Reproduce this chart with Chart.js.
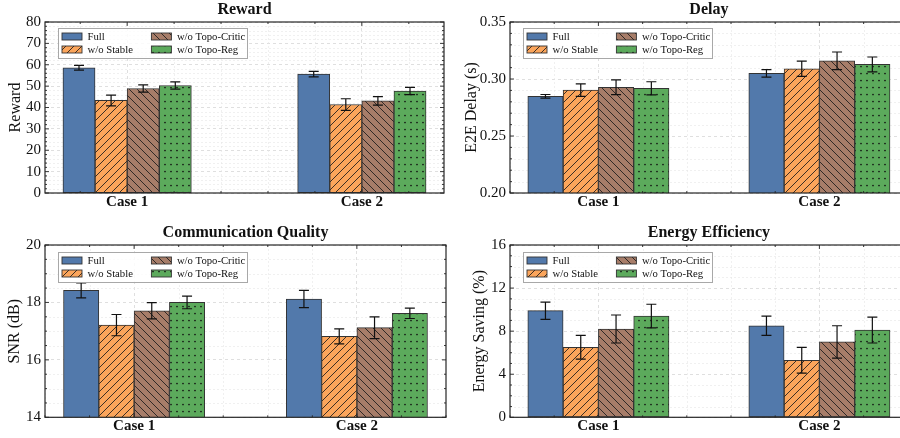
<!DOCTYPE html>
<html><head><meta charset="utf-8">
<script src="https://cdn.jsdelivr.net/npm/chart.js@4.4.1/dist/chart.umd.min.js"></script>
<style>
html,body{margin:0;padding:0;width:900px;height:438px;overflow:hidden;background:#fff}
canvas{position:absolute;display:block}
</style></head><body>
<canvas id="c1" width="450" height="219" style="left:0;top:0"></canvas>
<canvas id="c2" width="460" height="219" style="left:450px;top:0"></canvas>
<canvas id="c3" width="450" height="219" style="left:0;top:219px"></canvas>
<canvas id="c4" width="460" height="219" style="left:450px;top:219px"></canvas>
<script>
// ---------- data ----------
const categories = ['Case 1', 'Case 2'];
const categoryPositions = [0, 1];
const seriesNames = ['Full', 'w/o Stable', 'w/o Topo-Critic', 'w/o Topo-Reg'];

// values per series (Full, w/o Stable, w/o Topo-Critic, w/o Topo-Reg) for [Case 1, Case 2]
const rewardMeans = [[58.6, 55.6], [43.3, 41.4], [48.9, 43.1], [50.3, 47.7]];
const rewardErrs  = [[1.1, 1.3], [2.5, 2.7], [1.7, 2.0], [1.7, 1.7]];
const delayMeans  = [[0.2848, 0.3050], [0.2902, 0.3090], [0.2928, 0.3160], [0.2918, 0.3128]];
const delayErrs   = [[0.0016, 0.0033], [0.0055, 0.0067], [0.0065, 0.0077], [0.0058, 0.0065]];
const snrMeans    = [[18.42, 18.12], [17.21, 16.82], [17.71, 17.12], [18.00, 17.62]];
const snrErrs     = [[0.26, 0.30], [0.37, 0.26], [0.28, 0.38], [0.22, 0.18]];
const energyMeans = [[9.9, 8.5], [6.5, 5.3], [8.2, 7.0], [9.4, 8.1]];
const energyErrs  = [[0.8, 0.9], [1.1, 1.2], [1.3, 1.5], [1.1, 1.2]];

// tick labels
const rewardTicks = [0, 10, 20, 30, 40, 50, 60, 70, 80];
const delayTicks  = [0.20, 0.25, 0.30, 0.35];
const snrTicks    = [14, 16, 18, 20];
const energyTicks = [0, 4, 8, 12, 16];

// ---------- style ----------
const FONT = "'Liberation Serif','Times New Roman',serif";
const TXT = '#111111';
const EDGE = '#333333';
const baseColors = ['#5279AB', '#FBA55B', '#A77D69', '#5CAA5C'];
const hatchKinds = ['none', 'fwd', 'back', 'dots'];

function makeFill(ctx, base, kind) {
  if (kind === 'none') return base;
  const c = document.createElement('canvas');
  const g = c.getContext('2d');
  if (kind === 'dots') {
    c.width = 6; c.height = 7;
    g.fillStyle = base; g.fillRect(0, 0, 6, 7);
    g.fillStyle = '#111';
    g.beginPath(); g.arc(3, 3.5, 0.85, 0, Math.PI * 2); g.fill();
  } else {
    const s = 8;
    c.width = s; c.height = s;
    g.fillStyle = base; g.fillRect(0, 0, s, s);
    g.strokeStyle = '#1a1a1a'; g.lineWidth = 0.85;
    g.beginPath();
    if (kind === 'fwd') {
      g.moveTo(-1, s + 1); g.lineTo(s + 1, -1);
      g.moveTo(-1, 1); g.lineTo(1, -1);
      g.moveTo(s - 1, s + 1); g.lineTo(s + 1, s - 1);
    } else {
      g.moveTo(-1, -1); g.lineTo(s + 1, s + 1);
      g.moveTo(s - 1, -1); g.lineTo(s + 1, 1);
      g.moveTo(-1, s - 1); g.lineTo(1, s + 1);
    }
    g.stroke();
  }
  return ctx.createPattern(c, 'repeat');
}

const panels = [
  {id: 'c1', title: 'Reward', yTitle: 'Reward', means: rewardMeans, errs: rewardErrs, ticks: rewardTicks,
   yMin: 0, yMax: 80, minor: 2, dec: 0, xMin: -0.35, xMax: 1.35, bar: 32.1,
   yW: 45, yTitlePad: 6, xH: 26, tTop: 0, tBot: 2.8, padR: 6, legTop: 6},
  {id: 'c2', title: 'Delay', yTitle: 'E2E Delay (s)', means: delayMeans, errs: delayErrs, ticks: delayTicks,
   yMin: 0.20, yMax: 0.35, minor: 0.01, dec: 2, xMin: -0.4, xMax: 1.4, bar: 35.3,
   yW: 60, yTitlePad: 12.2, xH: 26, tTop: 0, tBot: 2.8, padR: 2.2, legTop: 6},
  {id: 'c3', title: 'Communication Quality', yTitle: 'SNR (dB)', means: snrMeans, errs: snrErrs, ticks: snrTicks,
   yMin: 14, yMax: 20, minor: 0.5, dec: 0, xMin: -0.4, xMax: 1.4, bar: 35.3,
   yW: 45, yTitlePad: 5.5, xH: 20.7, tTop: 4.4, tBot: 2.4, padR: 4, legTop: 7},
  {id: 'c4', title: 'Energy Efficiency', yTitle: 'Energy Saving (%)', means: energyMeans, errs: energyErrs, ticks: energyTicks,
   yMin: 0, yMax: 16, minor: 1, dec: 0, xMin: -0.4, xMax: 1.4, bar: 35.3,
   yW: 60, yTitlePad: 20.5, xH: 20.7, tTop: 4.4, tBot: 2.4, padR: 2.2, legTop: 7}
];

function decoPlugin(p, fills) {
  return {
    id: 'deco',
    beforeDatasetsDraw(chart) {
      const {ctx, chartArea: a, scales: {x, y}} = chart;
      ctx.save();
      ctx.strokeStyle = '#e6e6e6'; ctx.lineWidth = 0.6; ctx.setLineDash([2, 2]);
      ctx.beginPath();
      const n = Math.round((p.yMax - p.yMin) / p.minor);
      for (let i = 1; i < n; i++) {
        const v = p.yMin + i * p.minor;
        if (p.ticks.some(t => Math.abs(t - v) < 1e-9)) continue;
        const py = Math.round(y.getPixelForValue(v)) + 0.5;
        ctx.moveTo(a.left, py); ctx.lineTo(a.right, py);
      }
      for (let k = Math.ceil(p.xMin / 0.2); k * 0.2 < p.xMax - 1e-9; k++) {
        if (k % 5 === 0) continue;
        const px = Math.round(x.getPixelForValue(k * 0.2)) + 0.5;
        ctx.moveTo(px, a.top); ctx.lineTo(px, a.bottom);
      }
      ctx.stroke();
      ctx.restore();
    },
    afterDatasetsDraw(chart) {
      const {ctx, chartArea: a, scales: {x, y}} = chart;
      ctx.save();
      // error bars
      ctx.strokeStyle = '#111'; ctx.lineWidth = 1.2;
      chart.data.datasets.forEach((ds, di) => {
        const meta = chart.getDatasetMeta(di);
        meta.data.forEach((el, i) => {
          const m = p.means[di][i], e = p.errs[di][i];
          const y1 = y.getPixelForValue(m + e), y0 = y.getPixelForValue(m - e);
          ctx.beginPath();
          ctx.moveTo(el.x, y1); ctx.lineTo(el.x, y0);
          ctx.moveTo(el.x - 5, y1); ctx.lineTo(el.x + 5, y1);
          ctx.moveTo(el.x - 5, y0); ctx.lineTo(el.x + 5, y0);
          ctx.stroke();
        });
      });
      // frame
      ctx.strokeStyle = '#262626'; ctx.lineWidth = 1.2;
      ctx.strokeRect(a.left, a.top, a.right - a.left, a.bottom - a.top);
      // inward ticks
      ctx.lineWidth = 0.9;
      ctx.beginPath();
      const n = Math.round((p.yMax - p.yMin) / p.minor);
      for (let i = 0; i <= n; i++) {
        const v = p.yMin + i * p.minor;
        const major = p.ticks.some(t => Math.abs(t - v) < 1e-9);
        const len = major ? 4 : 2;
        const py = y.getPixelForValue(v);
        ctx.moveTo(a.left, py); ctx.lineTo(a.left + len, py);
        ctx.moveTo(a.right, py); ctx.lineTo(a.right - len, py);
      }
      for (let k = Math.ceil(p.xMin / 0.2); k * 0.2 <= p.xMax + 1e-9; k++) {
        const len = k % 5 === 0 ? 4 : 2;
        const px = x.getPixelForValue(k * 0.2);
        ctx.moveTo(px, a.bottom); ctx.lineTo(px, a.bottom - len);
        ctx.moveTo(px, a.top); ctx.lineTo(px, a.top + len);
      }
      ctx.stroke();
      ctx.restore();
    },
    afterDraw(chart) {
      const {ctx, chartArea: a} = chart;
      const lx = a.left + 13, ly = a.top + p.legTop;
      ctx.save();
      ctx.fillStyle = 'rgba(255,255,255,0.85)';
      ctx.fillRect(lx, ly, 189, 30);
      ctx.strokeStyle = '#a8a8a8'; ctx.lineWidth = 1;
      ctx.strokeRect(lx + 0.5, ly + 0.5, 189, 30);
      ctx.font = '10.7px ' + FONT;
      ctx.textBaseline = 'middle';
      ctx.textAlign = 'left';
      seriesNames.forEach((name, i) => {
        const col = i < 2 ? 0 : 1, row = i % 2;
        const hx = lx + 4 + col * 89.4, cy = ly + 8.5 + row * 13;
        ctx.fillStyle = fills[i];
        ctx.fillRect(hx, cy - 3.5, 20, 7);
        ctx.strokeStyle = EDGE; ctx.lineWidth = 0.9;
        ctx.strokeRect(hx, cy - 3.5, 20, 7);
        ctx.fillStyle = TXT;
        ctx.fillText(name, hx + 25.5, cy + 0.5);
      });
      ctx.restore();
    }
  };
}

panels.forEach(p => {
  const canvas = document.getElementById(p.id);
  const ctx = canvas.getContext('2d');
  const fills = baseColors.map((c, i) => makeFill(ctx, c, hatchKinds[i]));
  const datasets = seriesNames.map((name, si) => ({
    label: name,
    data: categoryPositions.map((xv, ci) => ({x: xv, y: p.means[si][ci]})),
    backgroundColor: fills[si],
    borderColor: EDGE,
    borderWidth: 1,
    borderSkipped: false,
    barThickness: p.bar
  }));
  new Chart(canvas, {
    type: 'bar',
    data: {datasets},
    options: {
      responsive: false,
      animation: false,
      events: [],
      layout: {padding: {left: 0, right: p.padR, top: 0, bottom: 0}},
      plugins: {
        legend: {display: false},
        tooltip: {enabled: false},
        title: {display: true, fullSize: false, text: p.title, color: TXT,
          font: {family: FONT, size: 16, weight: 'bold', lineHeight: 1.2},
          padding: {top: p.tTop, bottom: p.tBot}}
      },
      scales: {
        x: {
          type: 'linear', min: p.xMin, max: p.xMax, offset: false,
          afterBuildTicks: s => { s.ticks = categoryPositions.map(v => ({value: v})); },
          afterFit: s => { s.height = p.xH; },
          grid: {color: '#d2d2d2', lineWidth: 0.7, drawTicks: false, offset: false},
          border: {display: false, dash: [3, 3]},
          ticks: {
            callback: v => { const i = categoryPositions.findIndex(c => Math.abs(c - v) < 1e-9); return i >= 0 ? categories[i] : ''; },
            font: {family: FONT, size: 15, weight: 'bold', lineHeight: 1.2},
            color: TXT, padding: 0, maxRotation: 0, autoSkip: false
          }
        },
        y: {
          type: 'linear', min: p.yMin, max: p.yMax,
          afterBuildTicks: s => { s.ticks = p.ticks.map(v => ({value: v})); },
          afterFit: s => { s.width = p.yW; },
          grid: {color: '#d2d2d2', lineWidth: 0.7, drawTicks: false},
          border: {display: false, dash: [3, 3]},
          ticks: {
            callback: v => Number(v).toFixed(p.dec),
            font: {family: FONT, size: 15, lineHeight: 1.2},
            color: TXT, padding: 4, autoSkip: false
          },
          title: {display: true, text: p.yTitle, color: TXT,
            font: {family: FONT, size: 16, lineHeight: 1.2},
            padding: {top: p.yTitlePad, bottom: 0}}
        }
      }
    },
    plugins: [decoPlugin(p, fills)]
  });
});
</script>
</body></html>
